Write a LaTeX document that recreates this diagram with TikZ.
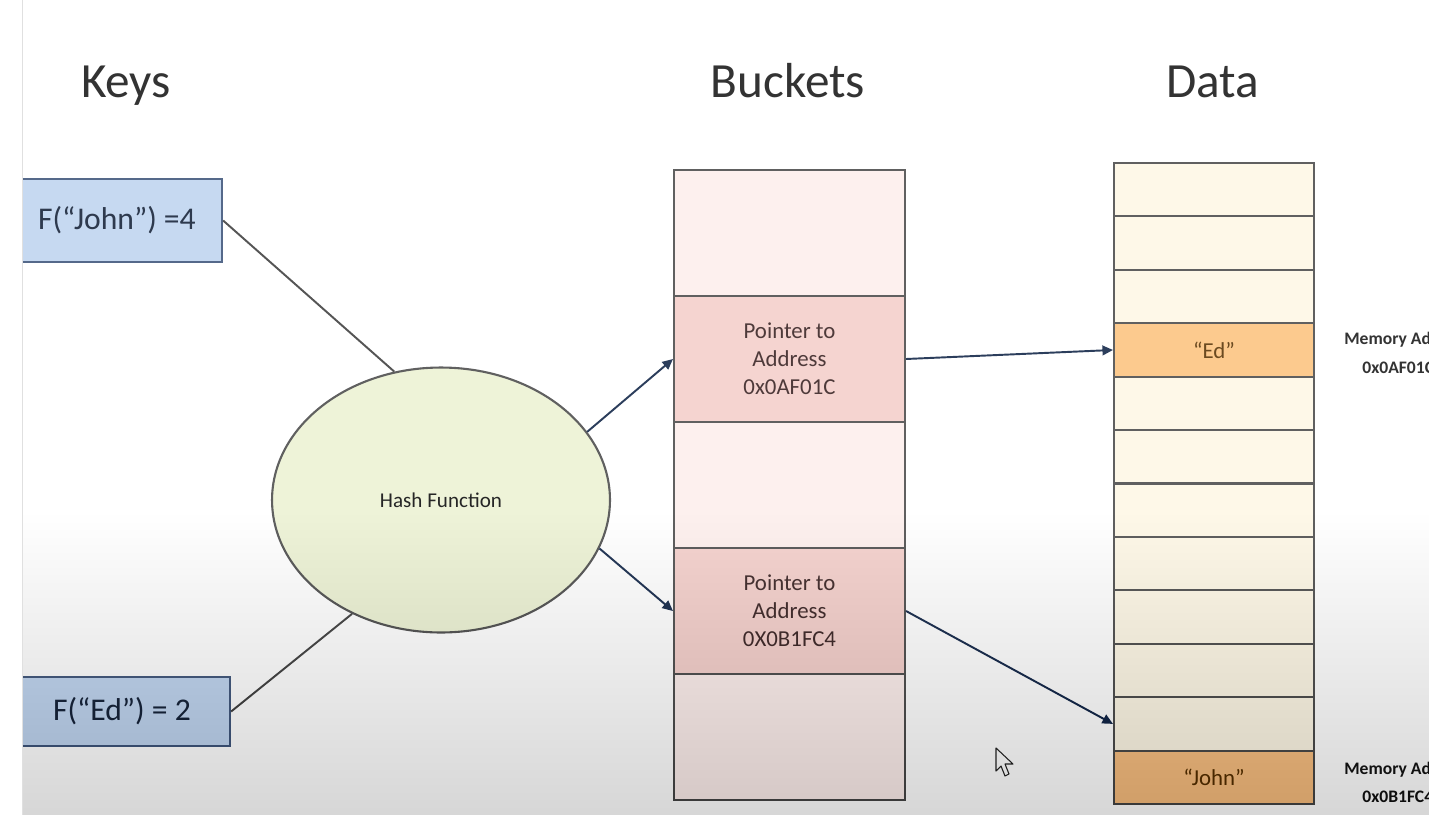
\documentclass[tikz,border=0pt]{standalone}
\usepackage{fontspec}
\setmainfont{Carlito}
\usetikzlibrary{shapes.geometric,arrows.meta}
\definecolor{titlec}{HTML}{333333}
\definecolor{keyfill}{HTML}{C6D9F1}
\definecolor{keyborder}{HTML}{55698A}
\definecolor{keytext}{HTML}{2E3A4E}
\definecolor{hashfill}{HTML}{EEF3D8}
\definecolor{boxline}{HTML}{606060}
\definecolor{blight}{HTML}{FDF0EE}
\definecolor{bdark}{HTML}{F5D4D0}
\definecolor{btext}{HTML}{4E3A3A}
\definecolor{datafill}{HTML}{FEF8E8}
\definecolor{edfill}{HTML}{FCCA8E}
\definecolor{johnfill}{HTML}{F8C690}
\definecolor{dtext}{HTML}{6B4A20}
\definecolor{linec}{HTML}{555555}
\definecolor{arrowc}{HTML}{2C3E5C}
\begin{document}
\begin{tikzpicture}[x=0.02cm,y=-0.02cm,
  title/.style={anchor=base, font=\fontsize{28}{32}\selectfont, text=titlec},
  keybox/.style={draw=keyborder, fill=keyfill, line width=1.3pt, inner sep=0pt,
    font=\fontsize{18}{22}\selectfont, text=keytext},
  bucket/.style={draw=boxline, line width=1.2pt, minimum width=4.62cm, minimum height=2.52cm,
    inner sep=0pt, align=center, font=\fontsize{13}{16}\selectfont, text=btext},
  datarow/.style={draw=boxline, line width=1.2pt, minimum width=4cm, minimum height=1.0684cm,
    inner sep=0pt, fill=datafill, font=\fontsize{13}{16}\selectfont, text=dtext},
  conn/.style={draw=linec, line width=1.1pt},
  ptr/.style={draw=arrowc, line width=1.1pt, -{Triangle[length=6pt,width=5.5pt]}},
  memtext/.style={anchor=west, font=\bfseries\fontsize{10}{12}\selectfont, text=titlec, inner sep=0pt}
]
\useasboundingbox (0,0) rectangle (1429,815);
\fill[white] (0,0) rectangle (1429,815);

% titles
\node[title] (tkeys) at (126,97) {Keys};
\node[title] (tbuckets) at (788,97) {Buckets};
\node[title] (tdata) at (1213,97) {Data};

% keys (clipped at slide edge)
\begin{scope}
  \clip (22,0) rectangle (1429,815);
  \node[keybox, minimum width=4.2cm, minimum height=1.66cm] (kj) at (117,220.5) {F(“John”) =4};
  \node[keybox, minimum width=4.32cm, minimum height=1.38cm] (ke) at (122,711.5) {F(“Ed”) = 2};
\end{scope}

% hash function
\node[ellipse, draw=boxline, line width=1.2pt, fill=hashfill, minimum width=6.76cm,
  minimum height=5.3cm, inner sep=0pt, font=\fontsize{12}{14}\selectfont, text=black!85] (hf) at (441,500) {Hash Function};

% buckets
\node[bucket, fill=blight] (b1) at (789.5,233) {};
\node[bucket, fill=bdark]  (b2) at (789.5,359) {Pointer to\\Address\\0x0AF01C};
\node[bucket, fill=blight] (b3) at (789.5,485) {};
\node[bucket, fill=bdark]  (b4) at (789.5,611) {Pointer to\\Address\\0X0B1FC4};
\node[bucket, fill=blight] (b5) at (789.5,737) {};

% data
\foreach \i in {1,2,3,5,6,7,8,9,10,11} {
  \node[datarow] (d\i) at (1214,{163+53.42*(\i-0.5)}) {};
}
\node[datarow, fill=edfill] (d4) at (1214,{163+53.42*3.5}) {“Ed”};
\node[datarow, fill=johnfill] (d12) at (1214,{163+53.42*11.5}) {“John”};

% memory addresses (cut at the right edge, as in the reference)
\node[memtext] (m1) at (1344,340) {Memory Address};
\node[memtext] (m1a) at (1362,368) {0x0AF01C};
\node[memtext] (m2) at (1344,770) {Memory Address};
\node[memtext] (m2a) at (1362,797) {0x0B1FC4};

% connectors
\draw[conn] (kj.east) -- (hf.110);
\draw[conn] (ke.east) -- (hf.232);
\draw[ptr] (hf.25) -- (b2.west);
\draw[ptr] (hf.-17) -- (b4.west);
\draw[ptr] (b2.east) -- (d4.west);
\draw[ptr] (b4.east) -- (d11.west);

% mouse cursor
\draw[fill=white, draw=black!75, line width=0.6pt, line join=round]
  (996,748) -- (996,771) -- (1001,766) -- (1005,776) -- (1009,774) -- (1005,764) -- (1013,764) -- cycle;

% screen gradient at the bottom (stacked faint layers)
\foreach \k in {0,...,39} {
  \fill[black, fill opacity=0.0056] (22,{515+\k*7.5}) rectangle (1429,815);
}
\draw[black!12, line width=0.5pt] (22,0) -- (22,815);
\end{tikzpicture}
\end{document}
